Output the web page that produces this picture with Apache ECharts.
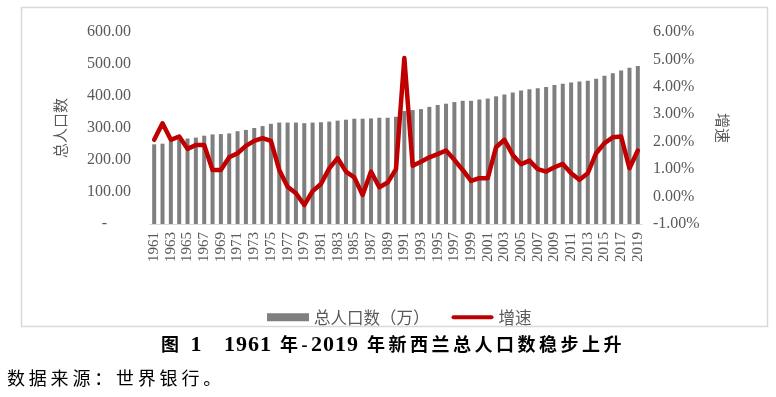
<!DOCTYPE html>
<html>
<head>
<meta charset="utf-8">
<script src="https://cdn.jsdelivr.net/npm/echarts@6/dist/echarts.min.js"></script>
<style>
  html, body { margin: 0; padding: 0; background: #fff; }
  #wrap { position: relative; width: 776px; height: 397px; }
  #chart { width: 776px; height: 397px; }
  .caption {
    position: absolute; left: 161px; top: 332px;
    font: bold 18px "Liberation Serif", "Noto Sans CJK SC", serif;
    letter-spacing: 3.5px; line-height: 24px; white-space: pre; color: #000;
  }
  .caption .num { font-size: 22px; letter-spacing: 1px; }
  .source {
    position: absolute; left: 7px; top: 365px;
    font: 18px "Noto Sans CJK SC", sans-serif;
    letter-spacing: 3.8px; line-height: 24px; white-space: pre; color: #000;
  }
</style>
</head>
<body>
<div id="wrap">
  <div id="chart"></div>
  <div class="caption">图 <span class="num">1</span>　<span class="num">1961</span> 年-<span class="num">2019</span> 年新西兰总人口数稳步上升</div>
  <div class="source">数据来源：世界银行。</div>
</div>
<script>
// 年份 1961-2019
const years = []
for (let y = 1961; y <= 2019; y++) years.push(String(y))

// 总人口数（万）
const population = [
  249, 251, 258, 265, 267, 270, 276, 280, 281, 283,
  290, 294, 300, 306, 313, 317, 317, 317, 315, 317,
  318, 320, 323, 326, 329, 329, 330, 332, 332, 335,
  353, 356, 359, 366, 372, 376, 381, 385, 385, 389,
  392, 399, 405, 411, 417, 421, 424, 428, 434, 438,
  442, 445, 448, 454, 463, 471, 480, 488, 494
]

// 增速（%）
const growth = [
  2.07, 2.67, 2.07, 2.19, 1.74, 1.88, 1.88, 0.97, 0.97, 1.43,
  1.58, 1.85, 2.03, 2.13, 2.03, 0.97, 0.36, 0.12, -0.31, 0.20,
  0.46, 1.03, 1.40, 0.91, 0.70, 0.06, 0.91, 0.34, 0.51, 1.00,
  5.05, 1.12, 1.27, 1.43, 1.55, 1.68, 1.34, 0.97, 0.57, 0.67,
  0.67, 1.80, 2.07, 1.52, 1.18, 1.31, 1.00, 0.91, 1.07, 1.19,
  0.85, 0.61, 0.85, 1.58, 1.95, 2.16, 2.19, 1.03, 1.68
]

const numFont = '"Liberation Serif", "Noto Sans CJK SC", serif'
const cjkFont = '"Noto Sans CJK SC", sans-serif'
const labelColor = '#595959'

const chart = echarts.init(document.getElementById('chart'))

chart.setOption({
  animation: false,
  backgroundColor: '#fff',
  grid: { left: 150, right: 134, top: 32, bottom: 173 },
  legend: {
    left: 262,
    top: 304,
    itemWidth: 42,
    itemHeight: 8,
    itemGap: 22,
    textStyle: { color: labelColor, fontSize: 16.5, fontFamily: cjkFont },
    data: [
      { name: '总人口数（万）', icon: 'rect' },
      // thin bar with transparent margins so the legend line stays ~4px thick
      { name: '增速', icon: 'path://M0,0 M0,8 M2,2 L40,2 A2,2 0 0 1 40,6 L2,6 A2,2 0 0 1 2,2 Z' }
    ]
  },
  xAxis: {
    type: 'category',
    data: years,
    axisLine: { lineStyle: { color: '#d9d9d9', width: 1 } },
    axisTick: { interval: 1, length: 5, lineStyle: { color: '#d9d9d9' } },
    axisLabel: {
      interval: 1,
      rotate: 90,
      margin: 8,
      color: labelColor,
      fontSize: 15,
      fontFamily: numFont
    }
  },
  yAxis: [
    {
      type: 'value',
      min: 0,
      max: 600,
      interval: 100,
      name: '总人口数',
      nameLocation: 'middle',
      nameRotate: 90,
      nameGap: 82,
      nameTextStyle: { color: labelColor, fontSize: 15, fontFamily: cjkFont },
      splitLine: { show: false },
      axisLine: { show: false },
      axisTick: { show: false },
      axisLabel: {
        margin: 19,
        color: labelColor,
        fontSize: 16,
        fontFamily: numFont,
        formatter: v => (v === 0 ? '-      ' : v.toFixed(2))
      }
    },
    {
      type: 'value',
      min: -1,
      max: 6,
      interval: 1,
      name: '增速',
      nameLocation: 'middle',
      nameRotate: -90,
      nameGap: 73,
      nameTextStyle: { color: labelColor, fontSize: 15, fontFamily: cjkFont },
      splitLine: { show: false },
      axisLine: { show: false },
      axisTick: { show: false },
      axisLabel: {
        margin: 11,
        color: labelColor,
        fontSize: 16,
        fontFamily: numFont,
        formatter: v => v.toFixed(2) + '%'
      }
    }
  ],
  series: [
    {
      name: '总人口数（万）',
      type: 'bar',
      yAxisIndex: 0,
      barWidth: 4,
      itemStyle: { color: '#7f7f7f' },
      data: population
    },
    {
      name: '增速',
      type: 'line',
      yAxisIndex: 1,
      symbol: 'none',
      lineStyle: { color: '#c00000', width: 4.5, join: 'round', cap: 'round' },
      itemStyle: { color: '#c00000' },
      data: growth
    }
  ],
  graphic: [
    {
      type: 'rect',
      shape: { x: 21.5, y: 7.5, width: 746, height: 319 },
      style: { fill: 'none', stroke: '#d9d9d9', lineWidth: 1.5 },
      silent: true
    }
  ]
})
</script>
</body>
</html>
